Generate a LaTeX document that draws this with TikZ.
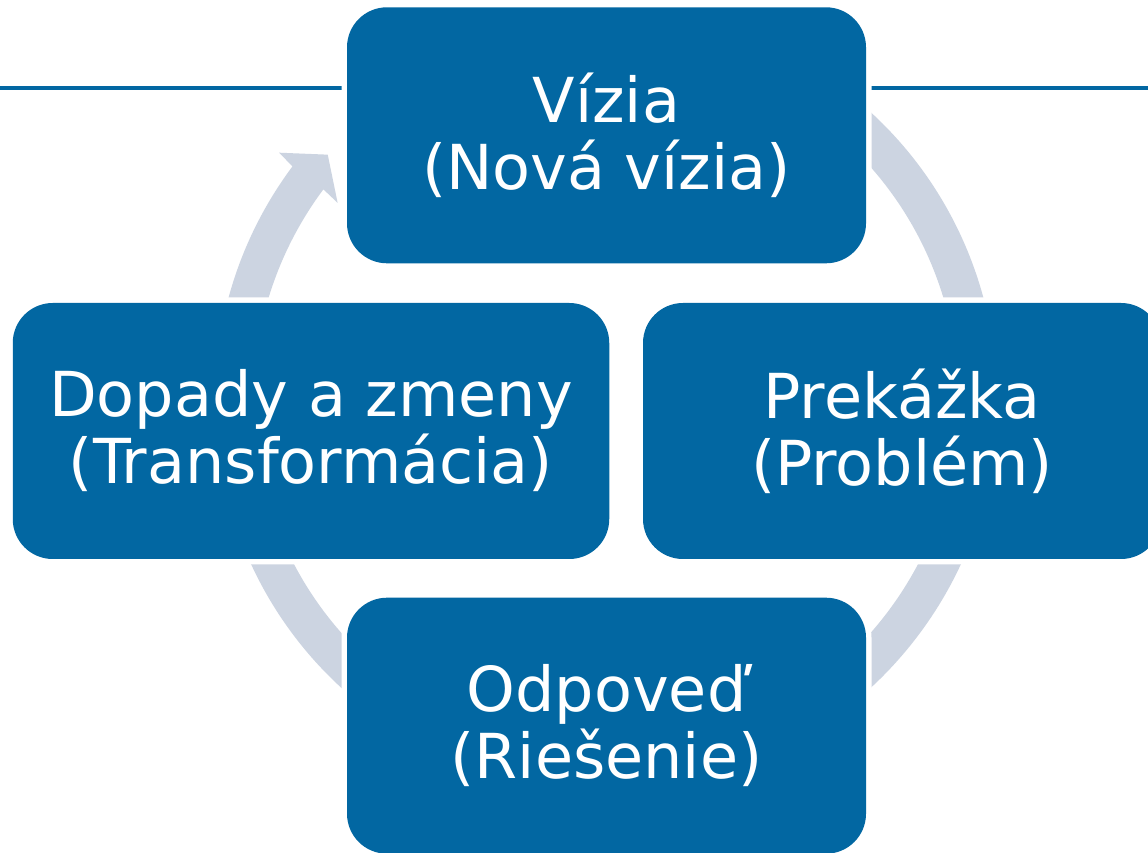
\documentclass[tikz,border=0pt]{standalone}
\usepackage{fontspec}
\setmainfont{DejaVu Sans}
\usetikzlibrary{calc}
\definecolor{boxblue}{RGB}{2,103,162}
\definecolor{ringgray}{RGB}{204,212,225}
\begin{document}
\begin{tikzpicture}[x=1pt,y=1pt,
  cyclebox/.style={rectangle, rounded corners=40pt, fill=boxblue, text=white,
    minimum width=519pt, minimum height=256pt, inner sep=0pt, align=center,
    font=\fontsize{62}{67}\selectfont,
    preaction={draw=white, line width=11pt}},
  topline/.style={boxblue, line width=4pt},
  ringarrow/.style={fill=ringgray}
  ]
\useasboundingbox (0,0) rectangle (1148,852);
\fill[white] (0,0) rectangle (1148,852);
% horizontal rule behind the top box
\draw[topline] (0,763.7) -- (1148,763.7);
% circular arrow
\coordinate (C) at (606,452);
\fill[ringarrow] ($(C)+(143.3:391)$) arc[start angle=143.3, end angle=410, radius=391]
  -- ($(C)+(50:352.5)$) arc[start angle=410, end angle=143.3, radius=352.5]
  -- ($(C)+(143.7:333)$) -- ($(C)+(138.6:371)$) -- ($(C)+(142.9:410)$) -- cycle;
% boxes
\node[cyclebox] (vizia) at (606.5,716.7) {Vízia\\(Nová vízia)};
\node[cyclebox, minimum width=596.5pt] (dopady) at (311,421) {Dopady a zmeny\\(Transformácia)};
\node[cyclebox, minimum width=518pt] (prekazka) at (902,421) {Prekážka\\(Problém)};
\node[cyclebox] (odpoved) at (606.5,126.3) {Odpoveď\\(Riešenie)};
\end{tikzpicture}
\end{document}
